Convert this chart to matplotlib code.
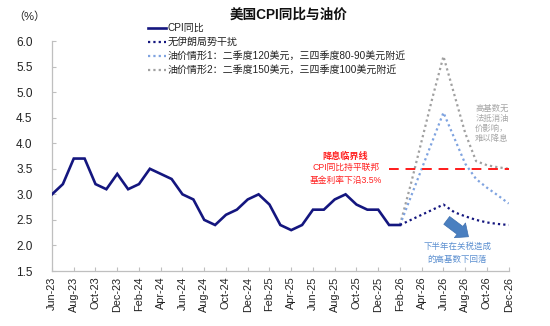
import matplotlib
matplotlib.use("Agg")
import matplotlib.pyplot as plt
import numpy as np
import pandas as pd

plt.rcParams['font.family'] = ['Liberation Sans', 'Noto Sans CJK SC', 'DejaVu Sans']
plt.rcParams['axes.unicode_minus'] = False

# ---- data ----
months = pd.date_range('2023-06-01', '2026-12-01', freq='MS')
month_labels = [d.strftime('%b-%y') for d in months]

cpi = [3.0, 3.2, 3.7, 3.7, 3.2, 3.1, 3.4,            # Jun23-Dec23
       3.1, 3.2, 3.5, 3.4, 3.3, 3.0, 2.9, 2.5, 2.4, 2.6, 2.7, 2.9,  # 2024
       3.0, 2.8, 2.4, 2.3, 2.4, 2.7, 2.7, 2.9, 3.0, 2.8, 2.7, 2.7,  # 2025
       2.4, 2.4]                                     # Jan26-Feb26

# scenarios Feb26 .. Dec26
scen_start = 32
base = [2.4, 2.5, 2.6, 2.7, 2.8, 2.65, 2.57, 2.5, 2.45, 2.42, 2.4]
scen1 = [2.4, 2.95, 3.5, 4.05, 4.6, 4.1, 3.6, 3.3, 3.13, 2.98, 2.82]
scen2 = [2.4, 3.2, 4.05, 4.9, 5.7, 4.95, 4.2, 3.65, 3.57, 3.53, 3.5]

threshold = 3.5
threshold_start, threshold_end = 31, 42

legend_labels = ['CPI同比', '无伊朗局势干扰',
                 '油价情形1：二季度120美元，三四季度80-90美元附近',
                 '油价情形2：二季度150美元，三四季度100美元附近']

yticks = [1.5, 2.0, 2.5, 3.0, 3.5, 4.0, 4.5, 5.0, 5.5, 6.0]

# ---- figure ----
fig = plt.figure(figsize=(5.5, 3.26), dpi=100)
ax = fig.add_axes([52/550, 1-271/326, (508.7-52)/550, (271-41)/326])

x_all = np.arange(len(months))
x_cpi = x_all[:len(cpi)]
x_scen = x_all[scen_start:scen_start+len(base)]

navy = '#14167f'
l1, = ax.plot(x_cpi, cpi, color=navy, lw=1.9, solid_joinstyle='miter', zorder=5)
l2, = ax.plot(x_scen, base, color=navy, lw=1.6, linestyle=(0, (1, 1.4)), zorder=4)
l3, = ax.plot(x_scen, scen1, color='#7fa3e0', lw=1.6, linestyle=(0, (1, 1.4)), zorder=3)
l4, = ax.plot(x_scen, scen2, color='#a0a0a0', lw=1.6, linestyle=(0, (1, 1.4)), zorder=2)

ax.plot([threshold_start, threshold_end], [threshold, threshold], color='#ff1a1a',
        lw=1.4, linestyle=(0, (5, 3.5)), zorder=3)

ax.set_xlim(0, len(months)-1)
ax.set_ylim(1.5, 6.0)
ax.set_yticks(yticks)
ax.set_yticklabels([f'{v:.1f}' for v in yticks], fontsize=8.5, color='#222222')
ax.set_xticks(x_all[::2])
ax.set_xticklabels(month_labels[::2], rotation=90, fontsize=7.8, color='#222222')
ax.tick_params(axis='both', direction='in', length=3, color='#bfbfbf', width=0.8)
ax.tick_params(axis='y', pad=14)
ax.tick_params(axis='x', pad=4)
for s in ['top', 'right']:
    ax.spines[s].set_visible(False)
for s in ['left', 'bottom']:
    ax.spines[s].set_color('#bfbfbf')
    ax.spines[s].set_linewidth(0.9)

# legend
fig.legend([l1, l2, l3, l4], legend_labels, loc='upper left',
           bbox_to_anchor=(148/550, 1-23/326), frameon=False, fontsize=7.2,
           borderpad=0, borderaxespad=0, handlelength=1.75, handletextpad=0.2,
           labelspacing=0.4, labelcolor='#222222')

# title and unit
fig.text(289/550, 1-15/326, '美国CPI同比与油价', ha='center', va='center',
         fontsize=9.8, fontweight='bold', color='#111111')
fig.text(13/550, 1-17/326, '（%）', ha='left', va='center', fontsize=8, color='#222222')

# annotations
red = '#ff2222'
ax.text(27.0, 3.75, '降息临界线', ha='center', va='center', fontsize=6.6,
        fontweight='bold', color=red)
ax.text(27.0, 3.52, 'CPI同比持平联邦', ha='center', va='center', fontsize=6.3, color=red)
ax.text(27.0, 3.28, '基金利率下沿3.5%', ha='center', va='center', fontsize=6.3, color=red)

ax.text(40.45, 4.38, '高基数无\n法抵消油\n价影响，\n难以降息', ha='center', va='center',
        fontsize=6.0, color='#a6a6a6', linespacing=1.3)

ax.text(37.25, 1.97, '下半年在关税造成', ha='center', va='center', fontsize=6.1, color='#5b8fd0')
ax.text(37.25, 1.73, '的高基数下回落', ha='center', va='center', fontsize=6.1, color='#5b8fd0')

ax.annotate('', xy=(38.3, 2.17), xytext=(36.3, 2.49),
            arrowprops=dict(arrowstyle='simple,head_length=0.55,head_width=0.95,tail_width=0.5',
                            fc='#4a7fc0', ec='#3d6fae', lw=0.5, mutation_scale=14,
                            shrinkA=0, shrinkB=0))

fig.savefig('out.png', dpi=100)
